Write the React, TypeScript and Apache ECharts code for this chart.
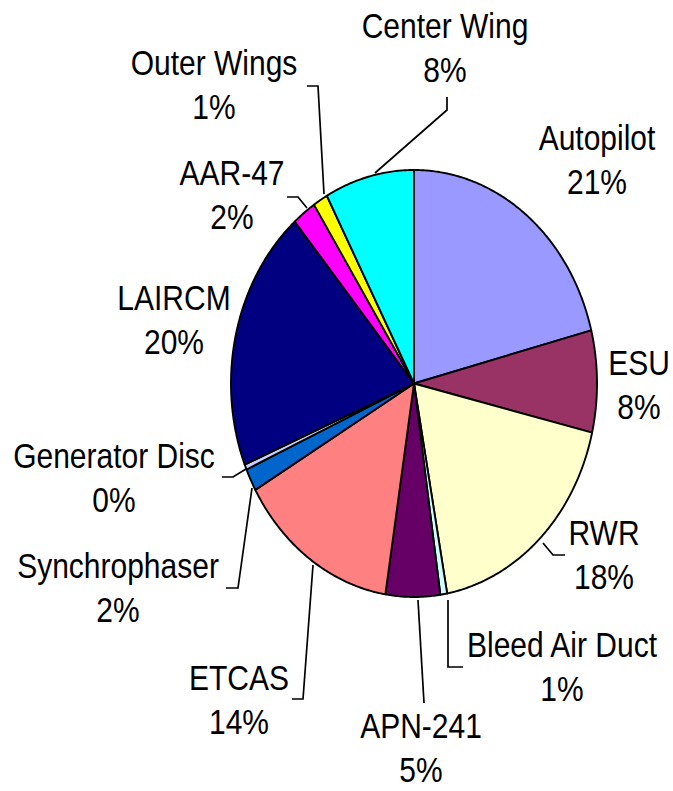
import React, { useEffect, useRef } from "react";
import * as echarts from "echarts";

const categories = [
  "Autopilot",
  "ESU",
  "RWR",
  "Bleed Air Duct",
  "APN-241",
  "ETCAS",
  "Synchrophaser",
  "Generator Disc",
  "LAIRCM",
  "AAR-47",
  "Outer Wings",
  "Center Wing",
];
const values = [21.0, 7.7, 18.4, 0.6, 4.8, 14.2, 1.7, 0.4, 19.9, 2.1, 1.3, 7.9];

// styles / layout (kept apart from the data)
const colors = [
  "#9999FF",
  "#993366",
  "#FFFFCC",
  "#CCFFFF",
  "#660066",
  "#FF8080",
  "#0066CC",
  "#CCCCFF",
  "#000080",
  "#FF00FF",
  "#FFFF00",
  "#00FFFF",
];
const labelPos: number[][] = [
  [597, 160],
  [639, 385],
  [604, 555],
  [562, 667],
  [421, 748],
  [239, 700],
  [118, 588],
  [114, 478],
  [174, 320],
  [232, 195],
  [214, 85],
  [445, 48],
];
const leaders: number[][][] = [
  [],
  [],
  [[543, 543], [553, 555], [565, 555]],
  [[448, 600], [448, 667], [463, 667]],
  [[418, 600], [424, 703]],
  [[313, 565], [303, 699], [292, 699]],
  [[252, 488], [238, 588], [226, 588]],
  [[246, 469], [233, 477], [222, 477]],
  [],
  [[307, 208], [298, 197], [287, 197]],
  [[324, 194], [318, 86], [307, 86]],
  [[375, 173], [447, 110], [447, 97]],
];

const CX = 414;
const CY = 383.5;
const RX = 183;
const RY = 213.5;
const SY = RY / RX;

export default function App() {
  const ref = useRef<HTMLDivElement>(null);
  useEffect(() => {
    document.body.style.margin = "0";
    if (!ref.current) return;
    const chart = echarts.init(ref.current, undefined, { renderer: "svg" });
    const total = values.reduce((a, b) => a + b, 0);
    const option: any = {
      animation: false,
      backgroundColor: "#ffffff",
      series: [
        {
          type: "custom",
          coordinateSystem: "none",
          silent: true,
          data: values.map((v, i) => ({ name: categories[i], value: v })),
          renderItem: (params: any, api: any) => {
            const i = params.dataIndex;
            const v = api.value(0);
            let start = 0;
            for (let j = 0; j < i; j++) start += values[j];
            const a0 = (start / total) * Math.PI * 2;
            const a1 = ((start + v) / total) * Math.PI * 2;
            const n = Math.max(2, Math.ceil((a1 - a0) / (Math.PI / 360)));
            const pts: number[][] = [[CX, CY]];
            for (let k = 0; k <= n; k++) {
              const a = a0 + ((a1 - a0) * k) / n;
              pts.push([CX + RX * Math.sin(a), CY - RY * Math.cos(a)]);
            }
            const children: any[] = [
              {
                type: "polygon",
                shape: { points: pts },
                style: {
                  fill: colors[i],
                  stroke: "#000000",
                  lineWidth: 1.9,
                  lineJoin: "round",
                },
              },
            ];
            if (leaders[i].length) {
              children.push({
                type: "polyline",
                shape: { points: leaders[i] },
                style: { stroke: "#000000", lineWidth: 1.7, fill: null },
              });
            }
            const pct = Math.round((v / total) * 100) + "%";
            children.push({
              type: "text",
              x: labelPos[i][0],
              y: labelPos[i][1],
              scaleY: SY,
              style: {
                text: categories[i] + "\n" + pct,
                fill: "#000000",
                fontSize: 30,
                fontFamily: "'Liberation Sans', Arial, sans-serif",
                align: "center",
                verticalAlign: "middle",
                lineHeight: 44 / SY,
              },
            });
            return { type: "group", children };
          },
        },
      ],
    };
    chart.setOption(option);
    return () => chart.dispose();
  }, []);
  return <div ref={ref} style={{ width: 673, height: 791 }} />;
}
